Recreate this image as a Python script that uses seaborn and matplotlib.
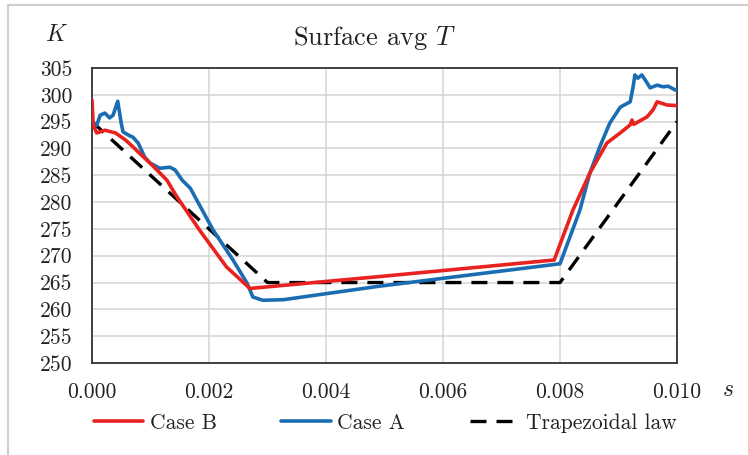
import matplotlib
matplotlib.use("Agg")
import matplotlib.pyplot as plt
import seaborn as sns
import pandas as pd
from matplotlib.lines import Line2D

# ---- data ----
case_b_t = [0.0, 0.00002, 0.00008, 0.00014, 0.00022, 0.0004, 0.00057, 0.0007, 0.0009,
            0.00099, 0.00128, 0.00145, 0.00185, 0.0023, 0.0027, 0.0049, 0.0079,
            0.00822, 0.00851, 0.0088, 0.00903, 0.0092, 0.00923, 0.00926, 0.00949,
            0.00959, 0.00966, 0.00983, 0.0100]
case_b_T = [299.0, 294.4, 292.9, 293.1, 293.4, 292.9, 291.6, 290.3, 288.2,
            287.3, 284.1, 281.0, 274.6, 267.9, 263.9, 266.1, 269.2,
            278.5, 285.4, 291.0, 292.9, 294.4, 295.3, 294.5, 295.9,
            297.2, 298.7, 298.1, 298.0]

case_a_t = [0.0, 0.00008, 0.00014, 0.00022, 0.0003, 0.00036, 0.00044, 0.0005, 0.00053,
            0.00062, 0.0007, 0.00079, 0.0009, 0.00099, 0.00116, 0.00133, 0.00142,
            0.00154, 0.00168, 0.00179, 0.00207, 0.00241, 0.00265, 0.00275, 0.00292,
            0.00327, 0.0049, 0.0080, 0.00834, 0.00851, 0.00868, 0.00885, 0.00903,
            0.0092, 0.00925, 0.00928, 0.00933, 0.0094, 0.00949, 0.00954, 0.00966,
            0.00976, 0.00985, 0.00997, 0.0100]
case_a_T = [295.0, 294.3, 296.2, 296.6, 295.7, 296.2, 298.8, 294.7, 293.1,
            292.5, 292.1, 291.0, 288.4, 287.3, 286.3, 286.5, 286.0,
            284.1, 282.6, 280.4, 274.8, 269.2, 264.9, 262.3, 261.7,
            261.8, 264.3, 268.5, 278.5, 285.4, 290.3, 294.7, 297.7,
            298.7, 301.5, 303.7, 303.1, 303.7, 302.2, 301.3, 301.8,
            301.5, 301.6, 300.9, 300.9]

trap_t = [0.0, 0.003, 0.008, 0.010]
trap_T = [295.0, 265.0, 265.0, 295.0]

x_ticks = [0.000, 0.002, 0.004, 0.006, 0.008, 0.010]
x_tick_labels = ["0.000", "0.002", "0.004", "0.006", "0.008", "0.010"]
y_ticks = [250, 255, 260, 265, 270, 275, 280, 285, 290, 295, 300, 305]
y_tick_labels = [str(v) for v in y_ticks]

title_text = "Surface avg $T$"
series_names = ["Case B", "Case A", "Trapezoidal law"]

# ---- style ----
sns.set_theme(style="white")
plt.rcParams["font.family"] = ["cmr10", "DejaVu Serif"]
plt.rcParams["mathtext.fontset"] = "cm"
plt.rcParams["axes.unicode_minus"] = False

W, H = 748, 455
fig = plt.figure(figsize=(W / 100, H / 100), dpi=100)
fig.patch.set_facecolor("white")
ax = fig.add_axes([92 / W, 1 - 363 / H, (677 - 92) / W, (363 - 68) / H])

red = "#e8231f"
blue = "#1b6db3"

df_b = pd.DataFrame({"t": case_b_t, "T": case_b_T})
df_a = pd.DataFrame({"t": case_a_t, "T": case_a_T})
df_tr = pd.DataFrame({"t": trap_t, "T": trap_T})

sns.lineplot(data=df_tr, x="t", y="T", ax=ax, color="black", linewidth=2.4,
             label=series_names[2], zorder=3)
ax.lines[-1].set_dashes([4.8, 3.0])
sns.lineplot(data=df_a, x="t", y="T", ax=ax, color=blue, linewidth=2.6,
             label=series_names[1], zorder=4)
sns.lineplot(data=df_b, x="t", y="T", ax=ax, color=red, linewidth=2.6,
             label=series_names[0], zorder=5)

ax.set_xlim(0, 0.010)
ax.set_ylim(250, 305)
ax.set_xticks(x_ticks)
ax.set_xticklabels(x_tick_labels)
ax.set_yticks(y_ticks)
ax.set_yticklabels(y_tick_labels)
ax.tick_params(axis="both", length=0, labelsize=15.5, colors="#222222")
ax.tick_params(axis="x", pad=14)
ax.tick_params(axis="y", pad=14)
ax.set_xlabel("")
ax.set_ylabel("")
ax.grid(True, color="#d4d4d4", linewidth=1.1)
ax.set_axisbelow(True)
for sp in ax.spines.values():
    sp.set_visible(True)
    sp.set_color("#333333")
    sp.set_linewidth(1.3)

fig.text(374 / W, 1 - 38 / H, title_text, ha="center", va="center",
         fontsize=19, color="#222222")
fig.text(57 / W, 1 - 35 / H, "$K$", ha="center", va="center",
         fontsize=17, color="#222222")
fig.text(728 / W, 1 - 390 / H, "$s$", ha="center", va="center",
         fontsize=17, color="#222222")

handles, labels = ax.get_legend_handles_labels()
order = [labels.index(n) for n in series_names]
ax.legend([handles[i] for i in order], [labels[i] for i in order],
          loc="center", bbox_to_anchor=(385 / W, 1 - 423 / H),
          bbox_transform=fig.transFigure, ncol=3, frameon=False,
          fontsize=15.5, handlelength=2.3, handletextpad=0.3,
          columnspacing=3.0, labelcolor="#222222")

# outer light frame
fig.add_artist(Line2D([8 / W, 1.0], [1 - 5 / H, 1 - 5 / H],
                      transform=fig.transFigure, color="#cfcfcf", linewidth=1.5))
fig.add_artist(Line2D([8 / W, 8 / W], [0.0, 1 - 5 / H],
                      transform=fig.transFigure, color="#cfcfcf", linewidth=1.5))

fig.savefig("out.png", dpi=100, facecolor="white")
